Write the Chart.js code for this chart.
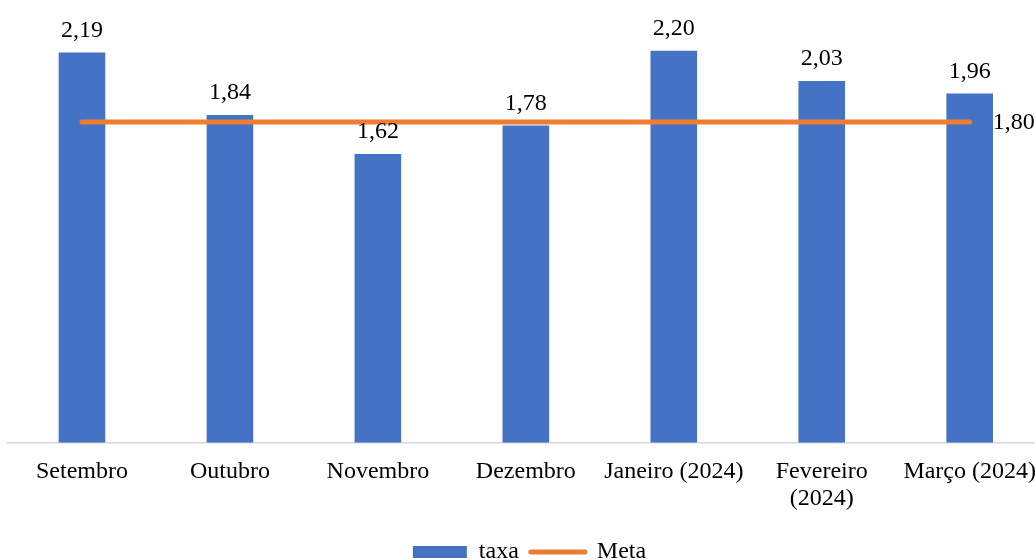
<!DOCTYPE html>
<html>
<head>
<meta charset="utf-8">
<script src="https://cdn.jsdelivr.net/npm/chart.js@4.4.1/dist/chart.umd.min.js"></script>
<style>
  html, body { margin: 0; padding: 0; background: #fff; overflow: hidden; }
  #wrap { width: 1051px; height: 574px; }
</style>
</head>
<body>
<div id="wrap"><canvas id="grafico"></canvas></div>
<script>
const categorias = ["Setembro", "Outubro", "Novembro", "Dezembro", "Janeiro (2024)", ["Fevereiro", "(2024)"], "Março (2024)"];
const taxa = [2.19, 1.84, 1.62, 1.78, 2.20, 2.03, 1.96];
const meta = [1.80, 1.80, 1.80, 1.80, 1.80, 1.80, 1.80];

const AZUL = "#4472C4";
const LARANJA = "#ED7D31";
const FONTE = "'Liberation Serif', 'Times New Roman', serif";

function formata(v) {
  return v.toFixed(2).replace(".", ",");
}

// valores em cima das barras e o da meta só no último ponto
const rotulos = {
  id: "rotulos",
  afterDatasetsDraw: function (chart) {
    var ctx = chart.ctx;
    ctx.save();
    ctx.font = "24px " + FONTE;
    ctx.fillStyle = "#000";
    ctx.textBaseline = "alphabetic";
    ctx.textAlign = "center";
    chart.getDatasetMeta(0).data.forEach(function (barra, i) {
      ctx.fillText(formata(taxa[i]), barra.x, barra.y - 16);
    });
    var pontos = chart.getDatasetMeta(1).data;
    var ultimo = pontos[pontos.length - 1];
    ctx.textAlign = "left";
    ctx.fillText(formata(meta[meta.length - 1]), ultimo.x + 23, ultimo.y + 7);
    ctx.restore();
  }
};

var ctx = document.getElementById("grafico").getContext("2d");
var grafico = new Chart(ctx, {
  type: "bar",
  data: {
    labels: categorias,
    datasets: [
      {
        label: "taxa",
        data: taxa,
        backgroundColor: AZUL,
        categoryPercentage: 1,
        barPercentage: 0.315,
        order: 1,
      },
      {
        type: "line",
        label: "Meta",
        data: meta,
        borderColor: LARANJA,
        backgroundColor: LARANJA,
        borderWidth: 5,
        borderCapStyle: "round",
        pointRadius: 0,
        pointHoverRadius: 0,
        order: 0,
      },
    ],
  },
  options: {
    responsive: true,
    maintainAspectRatio: false,
    animation: false,
    layout: {
      padding: { left: 8, right: 0, top: 8, bottom: 0 },
    },
    scales: {
      x: {
        offset: true,
        grid: { display: false, drawTicks: false },
        border: { display: true, color: "#d9d9d9", width: 1.5 },
        ticks: {
          color: "#000",
          padding: 15,
          maxRotation: 0,
          autoSkip: false,
          font: { family: FONTE, size: 24, lineHeight: 1.15 },
        },
      },
      y: {
        display: false,
        min: 0,
        max: 2.44,
      },
    },
    plugins: {
      tooltip: { enabled: false },
      legend: {
        position: "bottom",
        labels: {
          usePointStyle: true,
          pointStyleWidth: 54,
          boxHeight: 12,
          padding: 12,
          color: "#000",
          font: { family: FONTE, size: 24 },
          generateLabels: function () {
            return [
              { text: "taxa", fillStyle: AZUL, strokeStyle: AZUL, lineWidth: 0, pointStyle: "rect", datasetIndex: 0 },
              { text: "Meta", fillStyle: LARANJA, strokeStyle: LARANJA, lineWidth: 5, lineCap: "round", pointStyle: "line", datasetIndex: 1 },
            ];
          },
        },
      },
    },
  },
  plugins: [rotulos],
});
</script>
</body>
</html>
